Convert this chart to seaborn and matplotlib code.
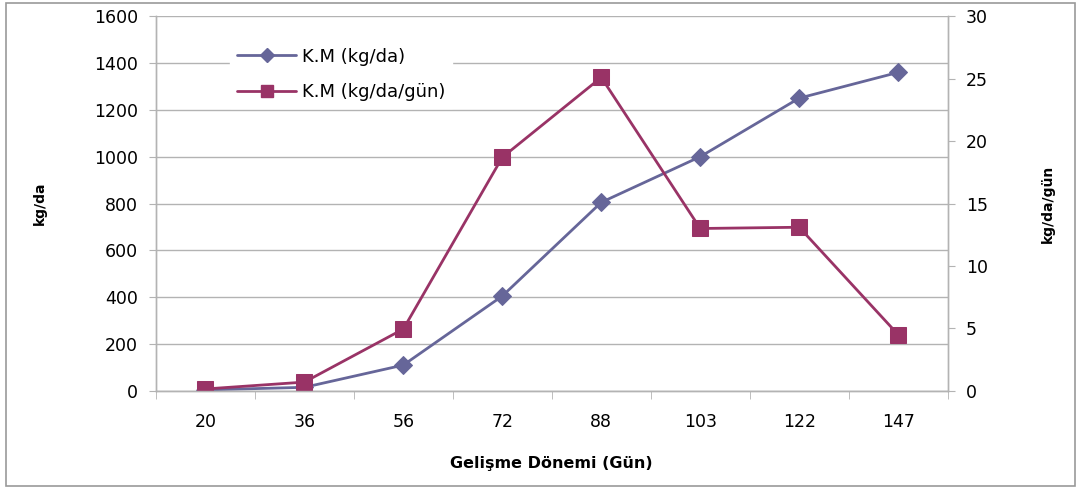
import matplotlib
matplotlib.use("Agg")
import matplotlib.pyplot as plt
import seaborn as sns
import pandas as pd
from matplotlib.lines import Line2D
from matplotlib.patches import Rectangle

sns.set_style("white")
plt.rcParams["font.family"] = ["DejaVu Sans"]
plt.rcParams["text.color"] = "black"
plt.rcParams["axes.labelcolor"] = "black"

days = ["20", "36", "56", "72", "88", "103", "122", "147"]
km_total = [4, 15, 110, 405, 805, 1000, 1250, 1360]          # kg/da
km_daily = [0.15, 0.7, 4.95, 18.7, 25.1, 13.0, 13.1, 4.5]    # kg/da/gün

df = pd.DataFrame({"pos": range(len(days)), "day": days,
                   "total": km_total, "daily": km_daily})

blue = "#666699"
red = "#993366"
grid = "#b3b3b3"

fig = plt.figure(figsize=(10.83, 4.91), dpi=100)
ax = fig.add_axes([0.144, 0.204, 0.731, 0.763])
ax2 = ax.twinx()

sns.lineplot(data=df, x="pos", y="total", ax=ax, color=blue, lw=2,
             marker="D", markersize=9, markeredgecolor=blue, sort=False,
             legend=False)
sns.lineplot(data=df, x="pos", y="daily", ax=ax2, color=red, lw=2,
             marker="s", markersize=11, markeredgecolor=red, sort=False,
             legend=False)

ax.set_xlim(-0.5, len(days) - 0.5)
ax.set_ylim(0, 1600)
ax2.set_ylim(0, 30)
ax.set_yticks(range(0, 1601, 200))
ax2.set_yticks(range(0, 31, 5))
ax.set_xticks(range(len(days)))
ax.set_xticklabels(days)
ax.set_xticks([i - 0.5 for i in range(len(days) + 1)], minor=True)

ax.yaxis.grid(True, color=grid, lw=1)
ax.set_axisbelow(True)

for a in (ax, ax2):
    a.spines["top"].set_visible(False)
    for side in ("left", "right", "bottom"):
        a.spines[side].set_color(grid)
        a.spines[side].set_linewidth(1)

ax.tick_params(axis="y", which="major", length=5, color=grid, labelcolor="black",
               labelsize=12.5, pad=8, left=True)
ax2.tick_params(axis="y", which="major", length=5, color=grid, labelcolor="black",
                labelsize=12.5, pad=8, right=True)
ax.tick_params(axis="x", which="major", length=0, labelsize=12.5, labelcolor="black", pad=16)
ax.tick_params(axis="x", which="minor", length=6, color=grid, bottom=True)

ax.set_xlabel("Gelişme Dönemi (Gün)", fontsize=11.5, fontweight="bold", labelpad=18)
ax.set_ylabel("kg/da", fontsize=10, fontweight="bold", labelpad=34)
ax2.set_ylabel("kg/da/gün", fontsize=10, fontweight="bold", rotation=90, labelpad=38)

handles = [Line2D([], [], color=blue, lw=2, marker="D", markersize=7, markeredgecolor=blue),
           Line2D([], [], color=red, lw=2, marker="s", markersize=8, markeredgecolor=red)]
leg = ax2.legend(handles, ["K.M (kg/da)", "K.M (kg/da/gün)"],
                 loc="upper left", bbox_to_anchor=(0.093, 0.935), frameon=True,
                 fontsize=13, handlelength=3.3, handletextpad=0.3, labelspacing=0.95,
                 borderpad=0.4, borderaxespad=0, fancybox=False)
leg.get_frame().set_edgecolor("white")
leg.get_frame().set_facecolor("white")
leg.get_frame().set_alpha(1)

fig.patches.append(Rectangle((0.0055, 0.01), 0.987, 0.983, transform=fig.transFigure,
                             fill=False, edgecolor="#9a9a9a", lw=1.2))

fig.savefig("out.png", dpi=100)
